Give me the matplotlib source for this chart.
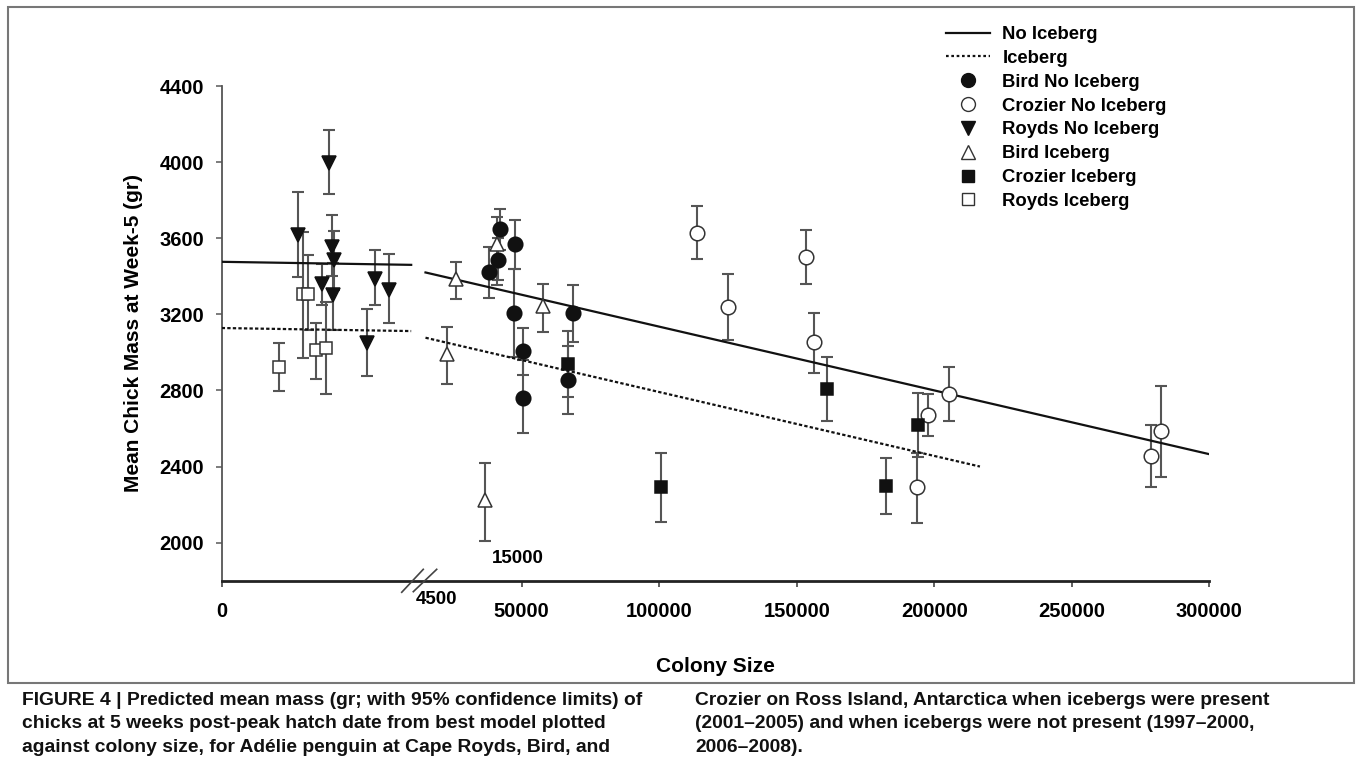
import numpy as np
import matplotlib
matplotlib.use("Agg")
import matplotlib.pyplot as plt
from matplotlib.lines import Line2D
from matplotlib.patches import Rectangle

plt.rcParams['font.family'] = ['Liberation Sans', 'DejaVu Sans']
plt.rcParams['font.weight'] = 'bold'

# ---------------- data ----------------
royds_no_x = [1738, 2435, 2510, 2548, 2518, 2283, 3478, 3796, 3290]
royds_no_y = [3616, 3993, 3554, 3484, 3300, 3358, 3388, 3326, 3049]
royds_no_lo = [3396, 3832, 3400, 3330, 3120, 3247, 3247, 3154, 2875]
royds_no_hi = [3844, 4168, 3721, 3638, 3470, 3467, 3540, 3516, 3226]

royds_ice_x = [1307, 1851, 1965, 2140, 2367]
royds_ice_y = [2923, 3305, 3309, 3011, 3023]
royds_ice_lo = [2796, 2970, 3116, 2862, 2779]
royds_ice_hi = [3049, 3633, 3511, 3156, 3265]

bird_no_x = [42105, 41487, 38214, 47559, 47195, 50359, 50577, 66939, 68539]
bird_no_y = [3646, 3484, 3423, 3572, 3207, 3005, 2762, 2853, 3207]
bird_no_lo = [3540, 3380, 3288, 3440, 2975, 2879, 2575, 2678, 3055]
bird_no_hi = [3756, 3600, 3554, 3695, 3440, 3130, 2958, 3032, 3353]

bird_ice_x = [26106, 40905, 57631, 22943, 36651]
bird_ice_y = [3388, 3567, 3242, 2993, 2225]
bird_ice_lo = [3283, 3353, 3107, 2835, 2011]
bird_ice_hi = [3476, 3709, 3361, 3133, 2418]

croz_no_x = [113625, 125115, 153366, 156275, 193617, 197835, 205470, 278808, 282335]
croz_no_y = [3630, 3239, 3502, 3055, 2291, 2672, 2783, 2456, 2586]
croz_no_lo = [3489, 3067, 3361, 2891, 2102, 2558, 2639, 2295, 2344]
croz_no_hi = [3768, 3414, 3642, 3209, 2470, 2779, 2921, 2616, 2825]

croz_ice_x = [66939, 100535, 160893, 182345, 194199]
croz_ice_y = [2940, 2291, 2805, 2300, 2616]
croz_ice_lo = [2765, 2111, 2639, 2151, 2449]
croz_ice_hi = [3113, 2470, 2975, 2446, 2786]

# model lines (left segment: Royds, right segment: Bird/Crozier)
noice_left_x = [0, 4300]
noice_left_y = [3476, 3460]
ice_left_x = [0, 4300]
ice_left_y = [3128, 3112]
noice_right_x = [15000, 300000]
noice_right_y = [3420, 2465]
ice_right_x = [15000, 216600]
ice_right_y = [3077, 2400]

x_ticks = [0, 50000, 100000, 150000, 200000, 250000, 300000]
y_ticks = [2000, 2400, 2800, 3200, 3600, 4000, 4400]

# broken axis: piecewise-linear scale
XB = np.array([0.0, 4500.0, 15000.0, 300000.0])
PB = np.array([0.0, 198.3, 203.8, 987.6])

def fwd(v):
    return np.interp(v, XB, PB)

def inv(p):
    return np.interp(p, PB, XB)

# ---------------- figure ----------------
W, H = 1357, 779
fig = plt.figure(figsize=(W / 100, H / 100), dpi=100)
ax = fig.add_axes([221.7 / W, 1 - 580.7 / H, 987.6 / W, 494.7 / H])
ax.set_xscale('function', functions=(fwd, inv))
ax.set_xlim(0, 300000)
ax.set_ylim(1800, 4400)

ecol = '#555555'
mcol = '#111111'

def series(x, y, lo, hi, marker, face, ms):
    y = np.asarray(y); lo = np.asarray(lo); hi = np.asarray(hi)
    ax.errorbar(x, y, yerr=[y - lo, hi - y], fmt='none', ecolor=ecol,
                elinewidth=1.5, capsize=4.5, capthick=1.5, zorder=2)
    ax.plot(x, y, linestyle='none', marker=marker, markersize=ms,
            markerfacecolor=face, markeredgecolor=mcol if face != 'white' else '#333333',
            markeredgewidth=1.1, zorder=4)

lw = 1.6
ax.plot(noice_left_x, noice_left_y, color='#111111', lw=lw, zorder=3)
ax.plot(noice_right_x, noice_right_y, color='#111111', lw=lw, zorder=3)
ax.plot(ice_left_x, ice_left_y, color='#111111', lw=lw, ls=(0, (1.5, 1.0)), zorder=3)
ax.plot(ice_right_x, ice_right_y, color='#111111', lw=lw, ls=(0, (1.5, 1.0)), zorder=3)

series(bird_no_x, bird_no_y, bird_no_lo, bird_no_hi, 'o', mcol, 10.5)
series(croz_no_x, croz_no_y, croz_no_lo, croz_no_hi, 'o', 'white', 10.5)
series(royds_no_x, royds_no_y, royds_no_lo, royds_no_hi, 'v', mcol, 10.5)
series(bird_ice_x, bird_ice_y, bird_ice_lo, bird_ice_hi, '^', 'white', 10.5)
series(croz_ice_x, croz_ice_y, croz_ice_lo, croz_ice_hi, 's', mcol, 9)
series(royds_ice_x, royds_ice_y, royds_ice_lo, royds_ice_hi, 's', 'white', 9)

# axes styling
for s in ['top', 'right']:
    ax.spines[s].set_visible(False)
ax.spines['left'].set_color('#555555')
ax.spines['left'].set_linewidth(1.3)
ax.spines['bottom'].set_color('#222222')
ax.spines['bottom'].set_linewidth(2.0)

ax.set_xticks(x_ticks)
ax.set_xticklabels([str(t) for t in x_ticks])
ax.set_yticks(y_ticks)
ax.set_yticklabels([str(t) for t in y_ticks])
ax.xaxis.set_minor_locator(matplotlib.ticker.NullLocator())
ax.tick_params(axis='x', direction='out', length=4, width=1.2, color='#444444',
               pad=11, labelsize=14.5)
ax.tick_params(axis='y', direction='out', length=4.5, width=1.2, color='#666666',
               pad=8, labelsize=14.5)

ax.set_xlabel('Colony Size', fontsize=15, fontweight='bold', labelpad=26)
ax.set_ylabel('Mean Chick Mass at Week-5 (gr)', fontsize=15, fontweight='bold', labelpad=12)

# break marks
for (x0, y0, x1, y1) in [(0.1823, -0.0234, 0.2041, 0.0230), (0.1940, -0.0222, 0.2177, 0.0230)]:
    ax.plot([x0, x1], [y0, y1], transform=ax.transAxes, color='#444444', lw=1.2, clip_on=False, zorder=5)

ax.text(0.2170, -0.037, '4500', transform=ax.transAxes, ha='center', va='center',
        fontsize=13.5, fontweight='bold')
ax.text(0.3002, 0.0439, '15000', transform=ax.transAxes, ha='center', va='center',
        fontsize=13.5, fontweight='bold')

# legend
handles = [
    Line2D([], [], color='#111111', lw=1.6),
    Line2D([], [], color='#111111', lw=1.6, ls=(0, (1.2, 1.2))),
    Line2D([], [], ls='none', marker='o', ms=10, mfc=mcol, mec=mcol),
    Line2D([], [], ls='none', marker='o', ms=10, mfc='white', mec='#333333'),
    Line2D([], [], ls='none', marker='v', ms=10, mfc=mcol, mec=mcol),
    Line2D([], [], ls='none', marker='^', ms=10, mfc='white', mec='#333333'),
    Line2D([], [], ls='none', marker='s', ms=8.5, mfc=mcol, mec=mcol),
    Line2D([], [], ls='none', marker='s', ms=8.5, mfc='white', mec='#333333'),
]
labels = ['No Iceberg', 'Iceberg', 'Bird No Iceberg', 'Crozier No Iceberg',
          'Royds No Iceberg', 'Bird Iceberg', 'Crozier Iceberg', 'Royds Iceberg']
fig.legend(handles, labels, loc='upper left', bbox_to_anchor=(946 / W, 1 - 26 / H),
           frameon=False, handlelength=2.4, handletextpad=0.65,
           labelspacing=0.37, borderpad=0, borderaxespad=0,
           prop={'weight': 'bold', 'size': 13.3})

# frame around chart
fig.patches.append(Rectangle((8 / W, 1 - 683 / H), (1354 - 8) / W, (683 - 7) / H,
                             transform=fig.transFigure, fill=False,
                             edgecolor='#777777', lw=1.5))

# caption
cap_left = ("FIGURE 4 | Predicted mean mass (gr; with 95% confidence limits) of\n"
            "chicks at 5 weeks post-peak hatch date from best model plotted\n"
            "against colony size, for Adélie penguin at Cape Royds, Bird, and")
cap_right = ("Crozier on Ross Island, Antarctica when icebergs were present\n"
             "(2001–2005) and when icebergs were not present (1997–2000,\n"
             "2006–2008).")
fig.text(22 / W, 1 - 692 / H, cap_left, ha='left', va='top', fontsize=13.9,
         fontweight='bold', linespacing=1.5, color='#111111')
fig.text(695 / W, 1 - 692 / H, cap_right, ha='left', va='top', fontsize=13.9,
         fontweight='bold', linespacing=1.5, color='#111111')

fig.savefig('out.png', dpi=100)
